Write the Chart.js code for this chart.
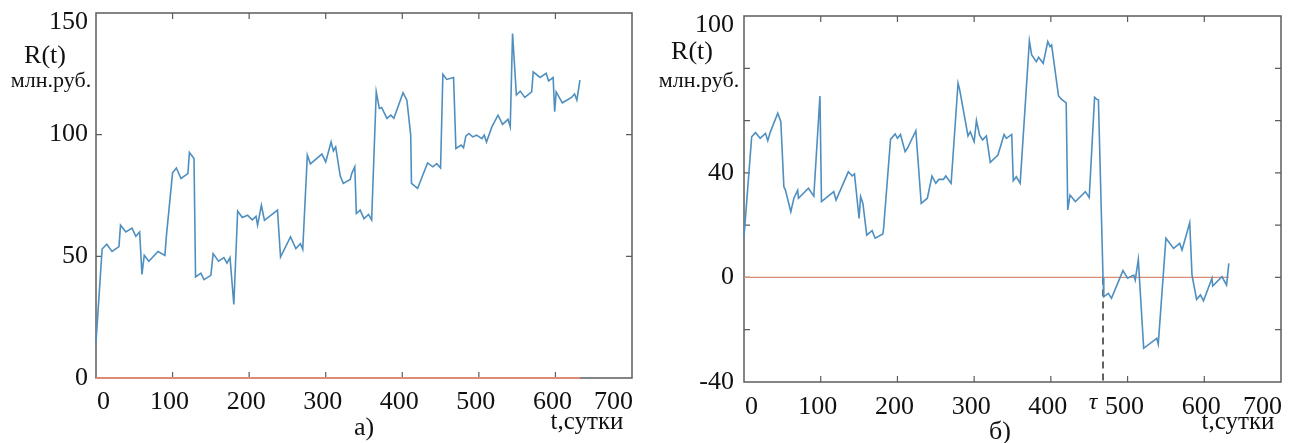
<!DOCTYPE html>
<html><head><meta charset="utf-8">
<script src="https://cdn.jsdelivr.net/npm/chart.js@4/dist/chart.umd.min.js"></script>
<style>
html,body{margin:0;padding:0;background:#fff;width:1296px;height:443px;overflow:hidden}
.box{position:absolute;top:0;width:648px;height:443px}
</style></head><body>
<div class="box" style="left:0"><canvas id="c1" width="648" height="443"></canvas></div>
<div class="box" style="left:648px"><canvas id="c2" width="648" height="443"></canvas></div>
<script>
// ---- data (a) ----
const tA = [0,8,14,21,30,32,39,47,52,57,60,63,69,81,90,92,100,105,111,120,122,128,130,137,141,150,153,160,167,171,175,180,185,191,198,204,209,211,216,220,237,241,254,261,267,270,276,280,295,300,307,310,313,319,323,332,334,338,340,345,350,356,360,366,370,373,380,385,389,401,406,411,412,420,433,440,445,450,453,458,467,470,477,480,483,487,492,497,504,507,510,517,525,531,538,541,544,549,554,560,569,571,580,588,591,597,599,601,609,621,625,628,632];
const rA = [14.7,53,55,52,54,62.8,60,61.6,58.2,60,42.6,50.4,48,52,50.4,58.6,84.3,86.3,82,84,92.7,90.2,41.5,43.1,40.4,42.2,51.1,48,49.5,47.2,49.5,30.2,68.6,66,66.9,65,66.4,62.8,71,64.8,69,49.7,58,53.2,55.2,52.9,91.6,88,92,88.8,97,93.3,95,83,80,81.6,84,86.8,67.6,69,65.5,67.2,65,117.6,110.8,111.2,106.7,108,106.7,117.2,114.2,99.8,80,77.9,88.4,86.8,88.1,86.3,124.8,122.7,123.5,94.3,95.7,94.6,99.4,100.5,99.1,99.8,98.4,99.8,97,103.2,108,104.2,106.3,103.2,141.6,116.3,117.9,115.3,117.6,125.8,123.5,125.2,122.1,123.5,109.4,117.6,113.1,115.3,116.7,114.2,122.4];
// ---- data (б) ----
const tB = [0,10,15,21,28,31,34,44,48,52,54,61,65,70,71,84,91,99,101,117,120,136,141,144,150,152,155,160,167,171,181,182,191,197,200,204,210,213,224,231,239,245,250,254,260,263,270,279,281,292,295,300,303,307,311,316,321,331,339,342,349,351,355,360,372,375,381,384,390,396,399,401,410,414,420,422,425,432,445,450,457,460,462,468,469,475,479,494,500,508,510,514,521,538,540,550,560,568,571,581,584,590,595,599,610,611,623,629,632];
const rB = [15.6,53.8,55.4,53.2,55.1,52.3,55.4,62.8,59.6,34.7,33.4,25.1,30.3,33.4,30.3,34.1,31.1,69.4,29,32.8,29.6,40.4,38.8,39.6,22.6,30.9,28.3,16.2,17.9,15,16.6,18.8,52.8,54.9,53.2,54.7,48.1,49.4,56.1,28.3,30.3,38.8,36,37.5,37.5,38.8,36,74.3,72,54.1,55.7,51.9,60,54.5,52.6,54.1,44,46.8,54.7,53.2,54.7,37,38.5,36,90.5,85.1,82.5,84.2,81.9,90.2,88.3,88.9,69.4,68.1,66.8,25.8,31.5,29,32.8,30.6,68.9,68.1,67.9,0,-7.4,-6.1,-8,2.6,-0.3,0.9,-1,6.9,-27.1,-23.3,-25.5,15,11.1,13,10.5,20.9,0.9,-8.4,-6.7,-8.9,-0.3,-3.3,0.3,-2.9,5.4];
const tau = 468;
// ---- ticks ----
const xTicks = [0,100,200,300,400,500,600,700];
const xTickLabels = ['0','100','200','300','400','500','600','700'];
const yTicksA = [0,50,100,150];
const yLabelsA = ['0','50','100','150'];
const yTicksB = [-40,-20,0,20,40,60,80,100];
const yLabelsB = ['-40','','0','','40','','','100'];

const BLUE = '#4f8fbf', RED = '#dc8c74', AX = '#5c5c5c';
const SERIF = '"Liberation Serif","DejaVu Serif",serif';

function pts(xs, ys){ return xs.map((x,i)=>({x:x, y:ys[i]})); }

function axesPlugin(cfg){
  return {
    id:'mbox',
    beforeDatasetsDraw(chart){
      const {ctx, chartArea:a, scales:{x,y}} = chart;
      ctx.save();
      ctx.strokeStyle = AX; ctx.lineWidth = 1.5;
      ctx.strokeRect(a.left, a.top, a.right-a.left, a.bottom-a.top);
      ctx.lineWidth = 1.2;
      ctx.beginPath();
      xTicks.forEach(v=>{
        const px = x.getPixelForValue(v);
        if (px<=a.left+1 || px>=a.right-1) return;
        ctx.moveTo(px,a.bottom); ctx.lineTo(px,a.bottom-6);
        ctx.moveTo(px,a.top); ctx.lineTo(px,a.top+6);
      });
      cfg.yTicks.forEach(v=>{
        const py = y.getPixelForValue(v);
        if (py<=a.top+1 || py>=a.bottom-1) return;
        ctx.moveTo(a.left,py); ctx.lineTo(a.left+6,py);
        ctx.moveTo(a.right,py); ctx.lineTo(a.right-6,py);
      });
      ctx.stroke();
      ctx.restore();
    },
    afterDraw(chart){
      const {ctx, chartArea:a, scales:{x,y}} = chart;
      ctx.save();
      ctx.fillStyle = '#111';
      ctx.font = '26px ' + SERIF;
      ctx.textBaseline = 'middle';
      xTicks.forEach((v,i)=>{
        const t = xTickLabels[i];
        const w = ctx.measureText(t).width;
        let cx = x.getPixelForValue(v) - 3;
        if (cx - w/2 < a.left) cx = a.left + w/2 + 1;
        if (cx + w/2 > a.right + 1) cx = a.right + 1 - w/2;
        ctx.textAlign = 'center';
        ctx.fillText(t, cx, a.bottom + cfg.xLabelGap);
      });
      cfg.yTicks.forEach((v,i)=>{
        const t = cfg.yLabels[i];
        if (!t) return;
        let cy = y.getPixelForValue(v);
        if (cy < a.top + 9) cy = a.top + 9;
        ctx.textAlign = 'right';
        ctx.fillText(t, a.left - cfg.yLabelGap, cy);
      });
      ctx.textAlign = 'center';
      ctx.font = '26px ' + SERIF;
      ctx.fillText('R(t)', cfg.rt[0], cfg.rt[1]);
      ctx.font = '22px ' + SERIF;
      ctx.fillText('млн.руб.', cfg.unit[0], cfg.unit[1]);
      ctx.font = '25px ' + SERIF;
      ctx.fillText('t,сутки', cfg.tl[0], cfg.tl[1]);
      ctx.font = '26px ' + SERIF;
      ctx.fillText(cfg.tag, cfg.tagPos[0], cfg.tagPos[1]);
      if (cfg.tau){
        ctx.font = 'italic 24px ' + SERIF;
        ctx.fillText('τ', x.getPixelForValue(tau) - 10, a.bottom + cfg.xLabelGap - 4);
      }
      ctx.restore();
    }
  };
}

function makeChart(id, datasets, ymin, ymax, pad, cfg){
  return new Chart(document.getElementById(id), {
    type:'line',
    data:{datasets},
    options:{
      responsive:false, animation:false, devicePixelRatio:1,
      layout:{padding:pad},
      plugins:{legend:{display:false}, tooltip:{enabled:false}},
      elements:{point:{radius:0}, line:{tension:0}},
      scales:{
        x:{type:'linear', min:0, max:700, display:false},
        y:{type:'linear', min:ymin, max:ymax, display:false}
      }
    },
    plugins:[axesPlugin(cfg)]
  });
}

const endA = tA[tA.length-1], endB = tB[tB.length-1];

makeChart('c1', [
  {data:pts(tA,rA), borderColor:BLUE, borderWidth:1.6, clip:4},
  {data:[{x:0,y:0},{x:endA,y:0}], borderColor:RED, borderWidth:1.8, clip:4}
], 0, 150, {left:96, right:16, top:13, bottom:65}, {
  yTicks:yTicksA, yLabels:yLabelsA, xLabelGap:24, yLabelGap:8,
  rt:[45,56], unit:[51,81], tl:[587,422], tag:'а)', tagPos:[364,428], tau:false
});

makeChart('c2', [
  {data:pts(tB,rB), borderColor:BLUE, borderWidth:1.6, clip:4},
  {data:[{x:0,y:0},{x:endB,y:0}], borderColor:RED, borderWidth:1.3, clip:4},
  {data:[{x:tau,y:0},{x:tau,y:-40}], borderColor:'#111', borderWidth:1.3, borderDash:[7,5], clip:4}
], -40, 100, {left:96, right:15, top:16, bottom:61}, {
  yTicks:yTicksB, yLabels:yLabelsB, xLabelGap:25, yLabelGap:10,
  rt:[44,52], unit:[51,81], tl:[590,422], tag:'б)', tagPos:[352,432], tau:true
});
</script>
</body></html>
